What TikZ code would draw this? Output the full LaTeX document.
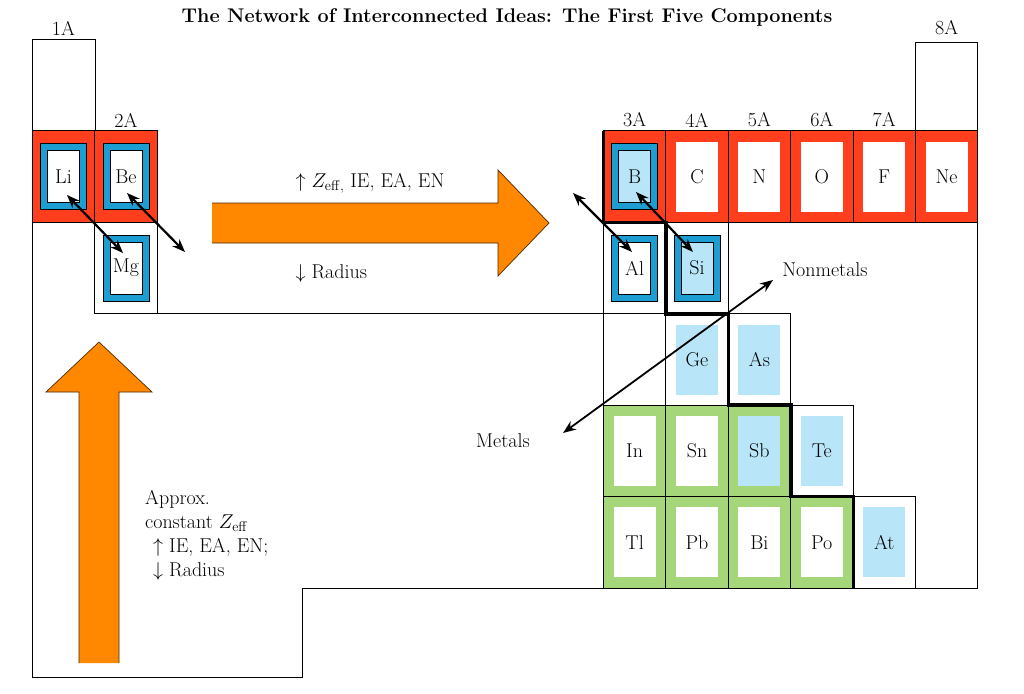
\RequirePackage{fix-cm}
\documentclass[tikz,border=0pt]{standalone}
\usepackage{amsmath,amssymb}
\usepackage{xcolor}
\usepackage{tikz}
\usetikzlibrary{arrows.meta,positioning,calc}
\definecolor{hotred}{RGB}{255,62,30}
\definecolor{ablue}{RGB}{28,158,210}
\definecolor{pale}{RGB}{184,230,248}
\definecolor{metal}{RGB}{166,214,122}
\definecolor{push}{RGB}{255,136,0}

\begin{document}
\begin{tikzpicture}[x=1pt,y=-1pt,font=\fontsize{20}{24}\selectfont,>={Stealth[length=13pt,width=10pt]}]
\tikzset{cell/.style={draw,line width=1pt,minimum width=62.4pt,minimum height=91.4pt,inner sep=0pt,outer sep=0pt},
 core/.style={minimum width=42pt,minimum height=70pt,inner sep=0pt},
 ring/.style={draw,line width=0.8pt,fill=ablue,minimum width=46pt,minimum height=66pt,inner sep=0pt},
 hole/.style={draw,line width=0.8pt,minimum width=32pt,minimum height=52pt,inner sep=0pt},
 link/.style={<->,line width=2.2pt},
 bigarrow/.style={draw=black!70!push,line width=0.7pt}}
\useasboundingbox (0,0) rectangle (1024,693);
\node[font=\fontsize{19.8}{22}\selectfont\bfseries] (title) at (507,17) {The Network of Interconnected Ideas: The First Five Components};
\foreach \g/\gx/\gy in {1A/63.5/28,2A/126/120,3A/634.6/120,4A/697/120,5A/759.4/120,6A/821.8/120,7A/884.2/120,8A/946.6/28}
 \node (g\g) at (\gx,\gy) {\g};
% period 2, left block
\node[cell,fill=hotred] (li cell) at (63.5,176.5) {};
\node[ring] (li ring) at (li cell) {};
\node[hole,fill=white] (li) at (li cell) {Li};
\node[cell,fill=hotred] (be cell) at (126,176.5) {};
\node[ring] (be ring) at (be cell) {};
\node[hole,fill=white] (be) at (be cell) {Be};
\node[cell] (mg cell) at (126,268) {};
\node[ring] (mg ring) at (mg cell) {};
\node[hole,fill=white] (mg) at (mg cell) {Mg};
% p block
\node[cell,fill=hotred] (b cell) at (634.6,176.5) {};
\node[ring] (b ring) at (b cell) {};
\node[hole,fill=pale] (b) at (b cell) {B};
\foreach \s/\sx in {C/697,N/759.4,O/821.8,F/884.2,Ne/946.6}{
 \node[cell,fill=hotred] (\s cell) at (\sx,176.5) {};
 \node[core,fill=white] (\s) at (\s cell) {\s};}
\node[cell] (al cell) at (634.6,268) {};
\node[ring] (al ring) at (al cell) {};
\node[hole,fill=white] (al) at (al cell) {Al};
\node[cell] (si cell) at (697,268) {};
\node[ring] (si ring) at (si cell) {};
\node[hole,fill=pale] (si) at (si cell) {Si};
\node[cell] (ga cell) at (634.6,359.5) {};
\foreach \s/\sx/\sy/\back/\front in {Ge/697/359.5/white/pale,As/759.4/359.5/white/pale,
 In/634.6/450.9/metal/white,Sn/697/450.9/metal/white,Sb/759.4/450.9/metal/pale,Te/821.8/450.9/white/pale,
 Tl/634.6/542.3/metal/white,Pb/697/542.3/metal/white,Bi/759.4/542.3/metal/white,Po/821.8/542.3/metal/white,At/884.2/542.3/white/pale}{
 \node[cell,fill=\back] (\s cell) at (\sx,\sy) {};
 \node[core,fill=\front] (\s) at (\s cell) {\s};}
% outline of the table
\draw[line width=1pt] (32,677) -- (32,40) -- (95,40) -- (95,131);
\draw[line width=1pt] (157,313.8) -- (603.4,313.8);
\draw[line width=1pt] (915,131) -- (915,43) -- (977.8,43) -- (977.8,588) -- (302,588) -- (302,677) -- (32,677);
% metal / nonmetal staircase
\draw[line width=3.5pt] (603.4,131) -- (603.4,222.4) -- (666.2,222.4) -- (666.2,313.8) -- (728.6,313.8)
 -- (728.6,405.2) -- (791,405.2) -- (791,496.6) -- (853.4,496.6) -- (853.4,588);
% trend arrows
\fill[push] (212,203) -- (498,203) -- (498,170) -- (549,223) -- (498,276) -- (498,243) -- (212,243) -- cycle;
\draw[bigarrow] (212,203) -- (498,203) -- (498,170) -- (549,223) -- (498,276) -- (498,243) -- (212,243);
\fill[push] (79,663) -- (79,392) -- (46,392) -- (99,342) -- (152,392) -- (119,392) -- (119,663) -- cycle;
\draw[bigarrow] (79,663) -- (79,392) -- (46,392) -- (99,342) -- (152,392) -- (119,392) -- (119,663);
\node[anchor=west] (row up) at (292,183) {$\uparrow$ $Z_{\mathrm{eff},}$ IE, EA, EN};
\node[anchor=west] (row down) at (292,273) {$\downarrow$ Radius};
\node[anchor=north west,align=left,inner sep=0pt] (col note) at (145,490)
 {Approx.\\constant $Z_{\mathrm{eff}}$\\\hspace*{8pt}$\uparrow$ IE, EA, EN;\\\hspace*{8pt}$\downarrow$ Radius};
% diagonal relationships
\coordinate (li tip) at (67,195);
\coordinate (mg tip) at (123,253);
\coordinate (be tip) at (127,193);
\coordinate (be out) at (185,252);
\coordinate (b out) at (573,193);
\coordinate (al tip) at (632,252);
\coordinate (b tip) at (636,192);
\coordinate (si tip) at (693,252);
\draw[link] (li tip) -- (mg tip);
\draw[link] (be tip) -- (be out);
\draw[link] (b out) -- (al tip);
\draw[link] (b tip) -- (si tip);
\node (metals) at (503,441) {Metals};
\node (nonmetals) at (825,270) {Nonmetals};
\coordinate (m tip) at (563,433);
\coordinate (n tip) at (773,280);
\draw[link,line width=1.8pt] (m tip) -- (n tip);
\end{tikzpicture}
\end{document}
